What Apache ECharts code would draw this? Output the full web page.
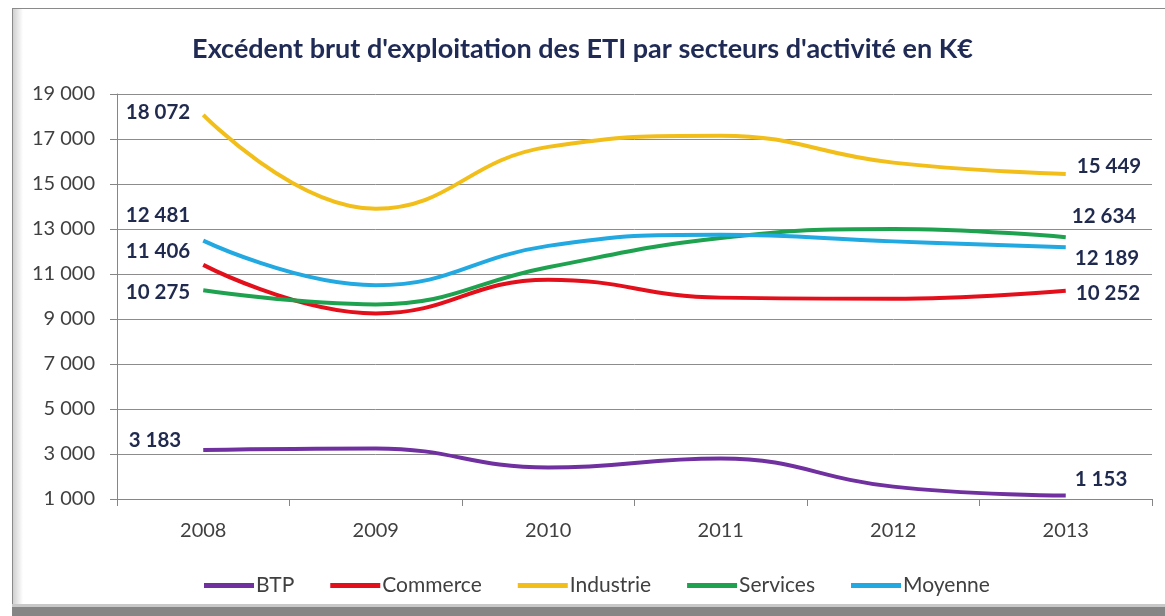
<!DOCTYPE html>
<html>
<head>
<meta charset="utf-8">
<script src="https://cdn.jsdelivr.net/npm/echarts@6/dist/echarts.min.js"></script>
<style>
html,body{margin:0;padding:0;background:#fff;}
#c{width:1165px;height:616px;}
</style>
</head>
<body>
<div id="c"></div>
<script>
var categories = ['2008', '2009', '2010', '2011', '2012', '2013'];
var seriesNames = ['BTP', 'Commerce', 'Industrie', 'Services', 'Moyenne'];
var btp = [3183, 3250, 2400, 2800, 1550, 1153];
var commerce = [11406, 9250, 10750, 9950, 9900, 10252];
var industrie = [18072, 13900, 16650, 17150, 15950, 15449];
var services = [10275, 9650, 11300, 12600, 13000, 12634];
var moyenne = [12481, 10500, 12250, 12750, 12450, 12189];
var yTicks = [1000, 3000, 5000, 7000, 9000, 11000, 13000, 15000, 17000, 19000];

var values = [btp, commerce, industrie, services, moyenne];
var colors = ['#7030A0', '#E3101C', '#F2BE1A', '#1FA24F', '#22A9E1'];
var firstOffsets = [[-17, -9], [-8, -13], [-8, -2], [-8, 2], [-8, -25]];
var lastOffsets = [[4, -16], [5, 3], [6, -8], [1, -21], [4, 11]];
var FONT = 'Lato, "Open Sans", sans-serif';

function fmt(v) {
  return String(v).replace(/\B(?=(\d{3})+(?!\d))/g, ' ');
}

var series = seriesNames.map(function (name, i) {
  var vals = values[i];
  return {
    name: name,
    type: 'line',
    smooth: 0.45,
    symbol: 'circle',
    symbolSize: 0,
    showSymbol: true,
    lineStyle: { width: 4, color: colors[i] },
    itemStyle: { color: colors[i] },
    data: vals.map(function (v, j) {
      var d = { value: v };
      if (j === 0 || j === vals.length - 1) {
        d.label = {
          show: true,
          position: j === 0 ? 'left' : 'right',
          distance: 5,
          offset: j === 0 ? firstOffsets[i] : lastOffsets[i],
          formatter: function (p) { return fmt(p.value); },
          color: '#1F2A4E',
          fontWeight: 'bold',
          fontSize: 20.5,
          fontFamily: FONT
        };
      }
      return d;
    })
  };
});

var chart = echarts.init(document.getElementById('c'), null, { renderer: 'canvas' });
chart.setOption({
  animation: false,
  backgroundColor: '#ffffff',
  title: {
    text: "Excédent brut d'exploitation des ETI par secteurs d'activité en K€",
    left: 'center',
    top: 31,
    textStyle: {
      color: '#1F2A55',
      fontSize: 27,
      fontWeight: 'bold',
      fontFamily: FONT
    }
  },
  graphic: [
    { type: 'rect', shape: { x: 12, y: 8, width: 1160, height: 1 }, style: { fill: '#8a8a8a' }, silent: true },
    { type: 'rect', shape: { x: 12, y: 8, width: 1, height: 600 }, style: { fill: '#8a8a8a' }, silent: true },
    { type: 'rect', shape: { x: 13, y: 9, width: 10, height: 598 },
      style: { fill: new echarts.graphic.LinearGradient(0, 0, 1, 0, [{ offset: 0, color: '#d0d0d0' }, { offset: 1, color: '#ffffff' }]) }, silent: true },
    { type: 'rect', shape: { x: 12, y: 604, width: 1160, height: 3 }, style: { fill: '#c8c8c8' }, silent: true },
    { type: 'rect', shape: { x: 12, y: 607, width: 1160, height: 10 }, style: { fill: '#858585' }, silent: true }
  ],
  legend: {
    data: seriesNames,
    top: 570,
    left: 199,
    icon: 'rect',
    itemWidth: 50,
    itemHeight: 5,
    itemGap: 36,
    textStyle: { color: '#404040', fontSize: 21, fontFamily: FONT, padding: [0, 0, 0, -3] }
  },
  grid: { left: 117, right: 13, top: 94, bottom: 117, containLabel: false },
  xAxis: {
    type: 'category',
    data: categories,
    boundaryGap: true,
    axisLine: { lineStyle: { color: '#868686', width: 1 } },
    axisTick: { show: true, length: 7, inside: false, lineStyle: { color: '#868686' } },
    axisLabel: { color: '#404040', fontSize: 20, margin: 22, fontFamily: FONT },
    splitLine: { show: false }
  },
  yAxis: {
    type: 'value',
    min: yTicks[0],
    max: yTicks[yTicks.length - 1],
    interval: 2000,
    axisLine: { show: true, lineStyle: { color: '#868686', width: 1 } },
    axisTick: { show: true, length: 7, lineStyle: { color: '#868686' } },
    axisLabel: {
      color: '#404040', fontSize: 20, margin: 22,
      fontFamily: FONT,
      formatter: function (v) { return fmt(v); }
    },
    splitLine: { show: true, lineStyle: { color: '#8c8c8c', width: 1 } }
  },
  series: series
});
</script>
</body>
</html>
